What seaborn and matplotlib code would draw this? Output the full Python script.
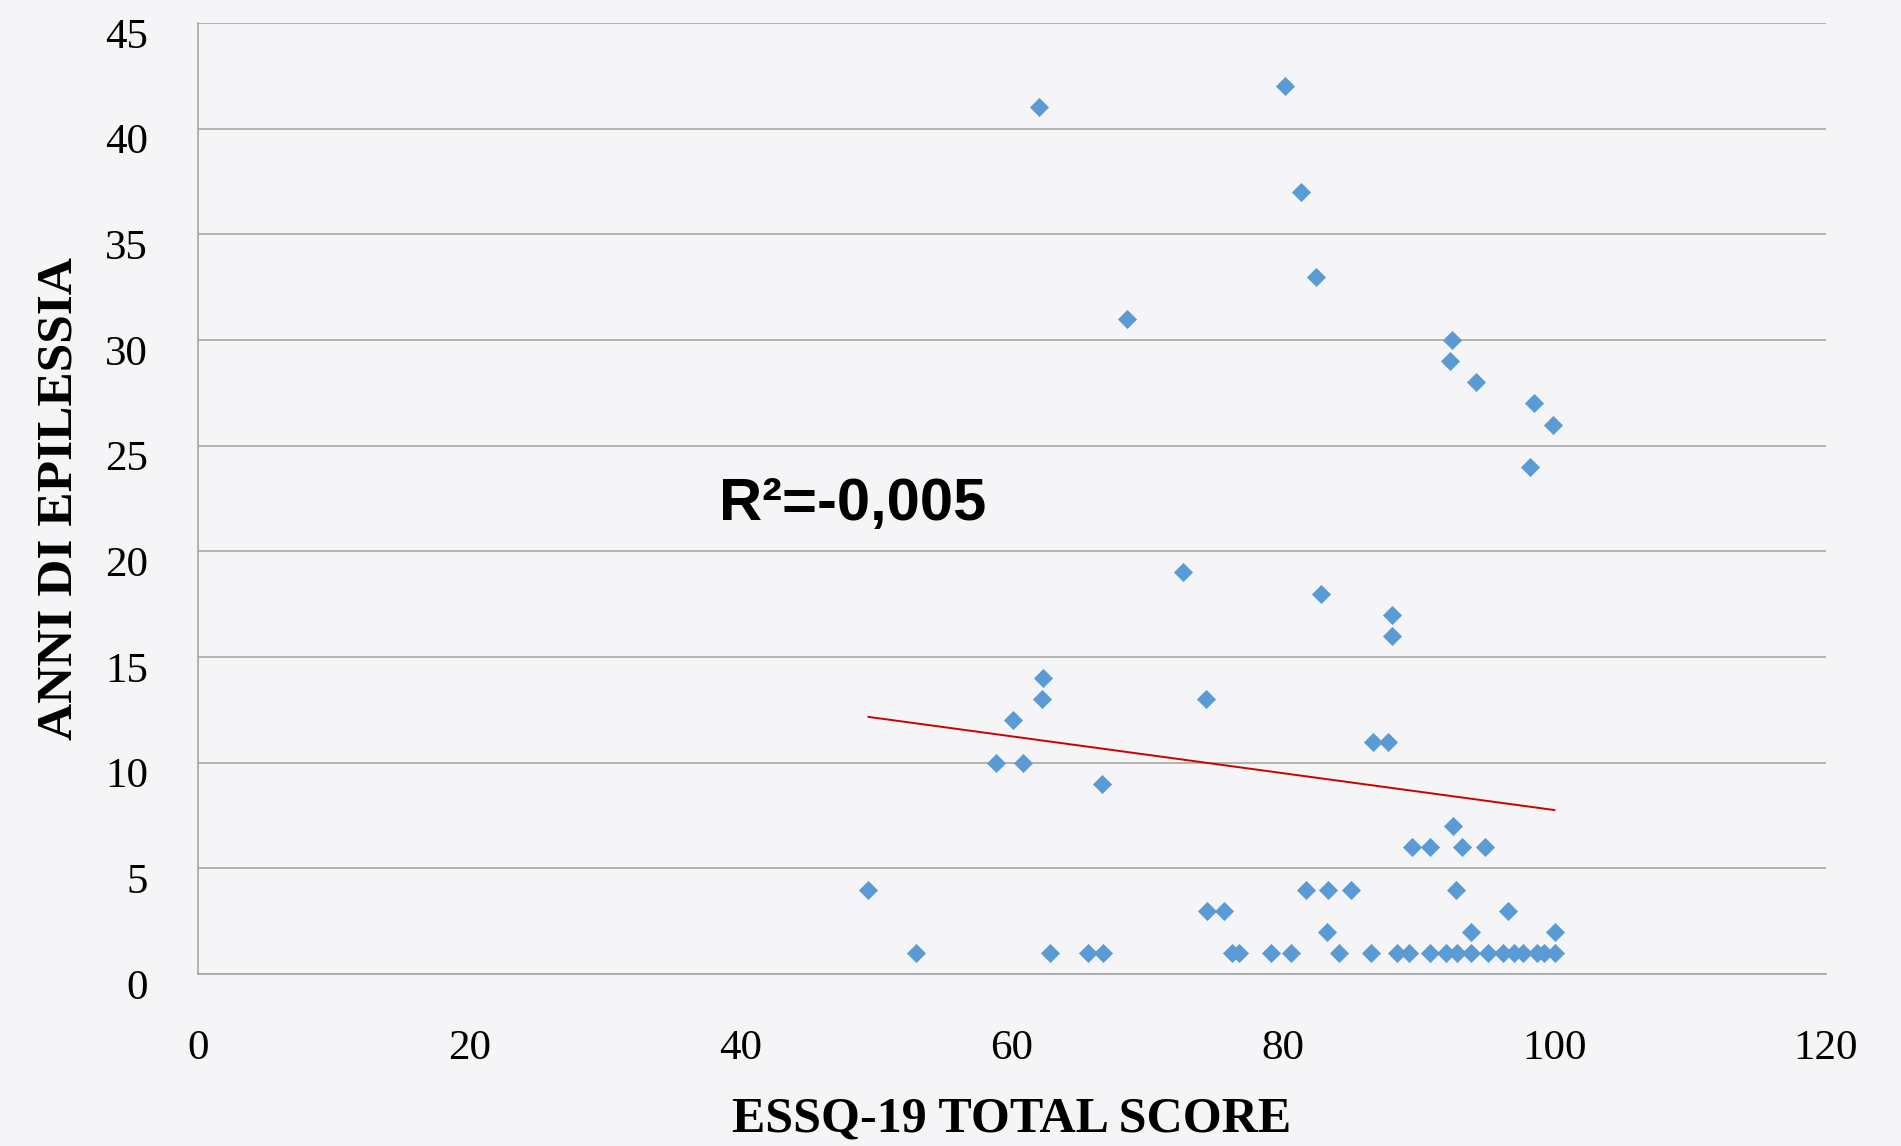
"""
plot.py - ESSQ-19 total score vs years of epilepsy
Scatter with linear trend line, rebuilt from the slide
"""

import numpy as np
import pandas as pd
import matplotlib
matplotlib.use('Agg')
import matplotlib.pyplot as plt
from matplotlib.transforms import ScaledTranslation
import seaborn as sns

# ============================================================
# DATA
# ============================================================

# ESSQ-19 total score, grouped by row of the same "anni"
essq_score = [
    62.0, 80.1, 81.3, 82.4, 68.5,                     # 41, 42, 37, 33, 31
    92.4, 92.3, 94.2, 98.5, 99.9, 98.2,               # 30, 29, 28, 27, 26, 24
    72.6, 82.8, 88.0, 88.0,                           # 19, 18, 17, 16
    62.3, 62.2, 74.3, 60.1, 86.6, 87.7,               # 14, 13, 13, 12, 11, 11
    58.8, 60.8, 66.6, 92.5,                           # 10, 10, 9, 7
    89.5, 90.8, 93.2, 94.9,                           # 6
    49.4, 81.7, 83.3, 85.0, 92.7,                     # 4
    74.4, 75.6, 96.6,                                 # 3
    83.2, 93.8, 100.0,                                # 2
    52.9, 62.8, 65.6, 66.7, 76.2, 76.7, 79.1, 80.6,   # 1
    84.1, 86.5, 88.4, 89.3, 90.8, 92.0, 92.8, 93.8,
    95.1, 96.2, 97.0, 97.7, 98.7, 99.2, 100.0,
]

anni_epilessia = [
    41, 42, 37, 33, 31,
    30, 29, 28, 27, 26, 24,
    19, 18, 17, 16,
    14, 13, 13, 12, 11, 11,
    10, 10, 9, 7,
    6, 6, 6, 6,
    4, 4, 4, 4, 4,
    3, 3, 3,
    2, 2, 2,
    1, 1, 1, 1, 1, 1, 1, 1,
    1, 1, 1, 1, 1, 1, 1, 1,
    1, 1, 1, 1, 1, 1, 1,
]

# Excel linear trendline, end points
trend_x = [49.4, 100.0]
trend_y = [12.17, 7.76]

x_ticks = [0, 20, 40, 60, 80, 100, 120]
y_ticks = [0, 5, 10, 15, 20, 25, 30, 35, 40, 45]
r2_label = 'R\u00b2=-0,005'

df = pd.DataFrame({'essq': essq_score, 'anni': anni_epilessia})
trend = pd.DataFrame({'essq': trend_x, 'anni': trend_y})

# ============================================================
# STYLE
# ============================================================

bg = '#f5f5f7'
grid_col = '#a6a6a6'
point_col = '#5b9bd5'
trend_col = '#cc0000'

sns.set_style('white')
plt.rcParams['font.family'] = ['Liberation Serif', 'DejaVu Serif']

fig = plt.figure(figsize=(19.01, 11.46), dpi=100, facecolor=bg)
ax = fig.add_axes([0.1042, 0.150, 0.8563, 0.830])
ax.set_facecolor(bg)

# ============================================================
# PLOT
# ============================================================

sns.scatterplot(data=df, x='essq', y='anni', marker='D', s=95,
                color=point_col, linewidth=0, ax=ax, zorder=3)

sns.lineplot(data=trend, x='essq', y='anni', color=trend_col,
             linewidth=1.4, ax=ax, zorder=4)

ax.set_xlim(0, 120)
ax.set_ylim(0, 45)
ax.set_xticks(x_ticks)
ax.set_yticks(y_ticks)
ax.set_xticklabels([str(t) for t in x_ticks])
ax.set_yticklabels([str(t) for t in y_ticks])

ax.yaxis.grid(True, color=grid_col, linewidth=1.2)
ax.xaxis.grid(False)
ax.set_axisbelow(True)

for side in ['top', 'right']:
    ax.spines[side].set_visible(False)
for side in ['left', 'bottom']:
    ax.spines[side].set_color(grid_col)
    ax.spines[side].set_linewidth(1.2)

ax.tick_params(axis='both', which='major', direction='out', length=12,
               width=1.2, color=grid_col, labelsize=31, labelcolor='black')
ax.tick_params(axis='x', pad=28)
ax.tick_params(axis='y', pad=24)

# old-style figures on the slide sit a bit lower than the gridline
shift = ScaledTranslation(0, -0.10, fig.dpi_scale_trans)
for lab in ax.get_yticklabels():
    lab.set_transform(lab.get_transform() + shift)

ax.set_xlabel('ESSQ-19 TOTAL SCORE', fontsize=36, fontweight='bold', color='black')
ax.set_ylabel('ANNI DI EPILESSIA', fontsize=37, fontweight='bold', color='black')
ax.xaxis.set_label_coords(0.5, -0.129)
ax.yaxis.set_label_coords(-0.071, 0.5)

ax.text(38.4, 22.2, r2_label, fontsize=43, fontweight='bold',
        family=['Liberation Sans', 'DejaVu Sans'],
        ha='left', va='center', color='black')

plt.savefig('out.png', dpi=100, facecolor=bg)
print("Saved: out.png")
